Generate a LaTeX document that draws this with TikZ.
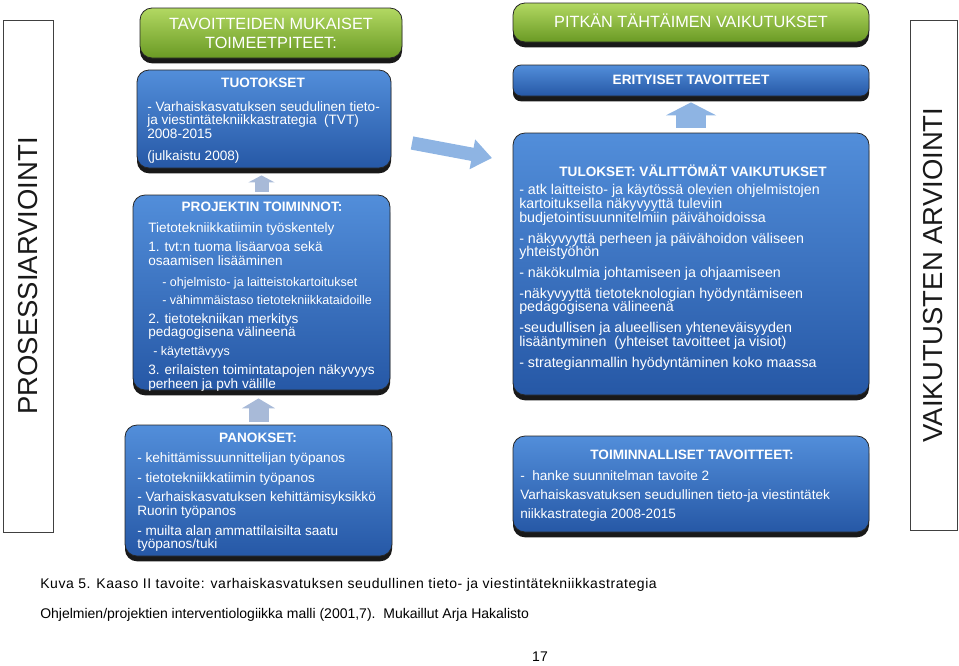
\documentclass[tikz,border=0pt]{standalone}
\usepackage{fontspec}
\setmainfont{Liberation Sans}
\usetikzlibrary{fit, shadows, arrows.meta, calc}

\definecolor{boxtop}{RGB}{82,142,218}
\definecolor{boxbot}{RGB}{38,88,166}
\definecolor{greentop}{RGB}{178,216,98}
\definecolor{greenbot}{RGB}{106,154,36}
\definecolor{arrowgray}{RGB}{168,186,216}
\definecolor{arrowblue}{RGB}{142,180,227}

\newcommand{\bodyfont}{\fontsize{10.2}{10.1}\selectfont}
\newcommand{\widefont}{\fontsize{10.7}{10.1}\selectfont}
\newcommand{\subfont}{\fontsize{9.4}{10.1}\selectfont}

\begin{document}
\begin{tikzpicture}[x=0.75pt, y=-0.75pt,
  bluebox/.style={rounded corners=9pt, inner sep=0pt, top color=boxtop, bottom color=boxbot,
    draw=black!85, line width=0.6pt,
    drop shadow={shadow xshift=0pt, shadow yshift=-4pt, fill=black, opacity=0.9}},
  greenbox/.style={bluebox, top color=greentop, bottom color=greenbot},
  sidebox/.style={draw=black!75, line width=0.6pt, inner sep=0pt},
  sidelabel/.style={rotate=90, font=\fontsize{20.6}{24}\selectfont, text=black!90},
  title/.style={text=white, font=\fontsize{12.2}{14.2}\selectfont, align=center, inner sep=0pt},
  head/.style={text=white, font=\bfseries\fontsize{10.2}{12}\selectfont, inner sep=0pt},
  body/.style={text=white, font=\bodyfont, align=left, anchor=north west, inner sep=0pt},
  caption/.style={font=\fontsize{10.5}{12}\selectfont, anchor=west, inner sep=0pt}
]
\useasboundingbox (0,0) rectangle (959,665);

\node[sidebox, fit={(3,20) (53,532)}] (procl) {};
\node[sidelabel] (procl-t) at (procl.center) {PROSESSIARVIOINTI};
\node[sidebox, fit={(910,20) (957,530)}] (procr) {};
\node[sidelabel] (procr-t) at (procr.center) {VAIKUTUSTEN ARVIOINTI};

\node[greenbox, fit={(140,8) (402,58)}] (goall) {};
\node[title] (goall-t) at (goall.center) {TAVOITTEIDEN MUKAISET\\TOIMEETPITEET:};

\node[bluebox, fit={(137,70) (391,168)}] (tuot) {};
\node[head] (tuot-h) at (263,83) {TUOTOKSET};
\node[body] (tuot-t) at (147,101) {- Varhaiskasvatuksen seudulinen tieto-\\
  ja viestintätekniikkastrategia\ \ (TVT)\\
  2008-2015\\[6.4pt]
  (julkaistu 2008)};

\node[bluebox, fit={(133,195) (390,390)}] (proj) {};
\node[head] (proj-h) at (262,207) {PROJEKTIN TOIMINNOT:};
\node[body] (proj-t) at (148,222) {Tietotekniikkatiimin työskentely\\[4.8pt]
  1. tvt:n tuoma lisäarvoa sekä\\
  osaamisen lisääminen\\[5.4pt]
  {\subfont\hspace*{10.5pt}- ohjelmisto- ja laitteistokartoitukset}\\[3.4pt]
  {\subfont\hspace*{10.5pt}- vähimmäistaso tietotekniikkataidoille}\\[4.2pt]
  2. tietotekniikan merkitys\\
  pedagogisena välineenä\\[4.2pt]
  {\subfont\hspace*{3.8pt}- käytettävyys}\\[4.2pt]
  3. erilaisten toimintatapojen näkyvyys\\
  perheen ja pvh välille};

\node[bluebox, fit={(125,425) (392,556)}] (panos) {};
\node[head] (panos-h) at (258,438) {PANOKSET:};
\node[body] (panos-t) at (137,452) {- kehittämissuunnittelijan työpanos\\[4.8pt]
  - tietotekniikkatiimin työpanos\\[4.8pt]
  - Varhaiskasvatuksen kehittämisyksikkö\\
  Ruorin työpanos\\[5pt]
  - muilta alan ammattilaisilta saatu\\
  työpanos/tuki};

\node[greenbox, fit={(513,3) (869,42)}] (goalr) {};
\node[title] (goalr-t) at (691,21) {PITKÄN TÄHTÄIMEN VAIKUTUKSET};

\node[bluebox, rounded corners=6pt, fit={(513,65) (869,96)}] (erit) {};
\node[head] (erit-h) at (691,80) {ERITYISET TAVOITTEET};

\node[bluebox, fit={(513,133) (869,395)}] (tul) {};
\node[head] (tul-h) at (693,171) {TULOKSET: VÄLITTÖMÄT VAIKUTUKSET};
\node[body, font=\widefont] (tul-t) at (519,184) {- atk laitteisto- ja käytössä olevien ohjelmistojen\\
  kartoituksella näkyvyyttä tuleviin\\[0.8pt]
  budjetointisuunnitelmiin päivähoidoissa\\[5.5pt]
  - näkyvyyttä perheen ja päivähoidon väliseen\\
  yhteistyöhön\\[5.5pt]
  - näkökulmia johtamiseen ja ohjaamiseen\\[5.5pt]
  -näkyvyyttä tietoteknologian hyödyntämiseen\\
  pedagogisena välineenä\\[5.5pt]
  -seudullisen ja alueellisen yhteneväisyyden\\
  lisääntyminen\ \ (yhteiset tavoitteet ja visiot)\\[5.5pt]
  - strategianmallin hyödyntäminen koko maassa};

\node[bluebox, fit={(513,436) (869,532)}] (toim) {};
\node[head] (toim-h) at (692,455) {TOIMINNALLISET TAVOITTEET:};
\node[body] (toim-t) at (520,470) {-\ \ hanke suunnitelman tavoite 2\\[4.5pt]
  Varhaiskasvatuksen seudullinen tieto-ja viestintätek\\[4.2pt]
  niikkastrategia 2008-2015};

\coordinate (dtail) at (412,143);
\coordinate (dtip) at (492,158);

\draw[draw=arrowgray, line width=10.5pt, shorten <=2.25pt, shorten >=5.25pt,
  -{Triangle[length=5.25pt, width=19.5pt]}] (proj.north) -- (proj.north |- tuot.south);
\draw[draw=arrowgray, line width=15pt, shorten <=2.25pt, shorten >=6pt,
  -{Triangle[length=7.5pt, width=24.75pt]}] (panos.north) -- (panos.north |- proj.south);
\draw[draw=arrowblue, line width=22.5pt, shorten <=3.75pt, shorten >=4.5pt,
  -{Triangle[length=9.75pt, width=37.5pt]}] (tul.north) -- (tul.north |- erit.south);
\draw[draw=arrowblue, line width=10pt,
  -{Triangle[length=15pt, width=21.75pt]}] (dtail) -- (dtip);

\node[caption] (cap1) at (40,585) {\addfontfeatures{LetterSpace=4.0}Kuva 5. Kaaso II tavoite: varhaiskasvatuksen seudullinen tieto- ja viestintätekniikkastrategia};
\node[caption] (cap2) at (40,615) {Ohjelmien/projektien interventiologiikka malli (2001,7).\ \ Mukaillut Arja Hakalisto};
\node[caption, anchor=center] (page) at (540,657) {17};
\end{tikzpicture}
\end{document}
